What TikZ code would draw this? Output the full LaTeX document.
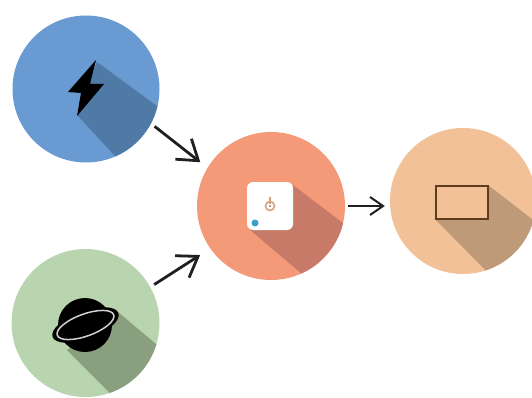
\documentclass[tikz,border=0pt]{standalone}
\usetikzlibrary{arrows.meta,calc}
\definecolor{cblue}{HTML}{6A9AD2}
\definecolor{sblue}{HTML}{4F7AA6}
\definecolor{cgreen}{HTML}{B9D5B0}
\definecolor{sgreen}{HTML}{8A9F7E}
\definecolor{corange}{HTML}{F59A78}
\definecolor{sorange}{HTML}{C87A68}
\definecolor{cpeach}{HTML}{F3C197}
\definecolor{speach}{HTML}{BE9A79}
\definecolor{brownline}{HTML}{5E3C1E}
\definecolor{dotblue}{HTML}{3A9FC8}
\definecolor{tanicon}{HTML}{D9A27C}
\tikzset{
  disc/.style={circle,inner sep=0pt,minimum size=#1},
  link/.style={draw=black!88,line width=2.8pt,-{Straight Barb[length=19pt,width=26pt,line width=2.8pt]}},
  smalllink/.style={draw=black!88,line width=2pt,-{Straight Barb[length=13pt,width=18pt,line width=2pt]}}
}
\begin{document}
\begin{tikzpicture}[x=1pt,y=-1pt]
\useasboundingbox (0,0) rectangle (532,398);
\fill[white] (0,0) rectangle (532,398);
% discs
\node[disc=147pt,fill=cblue] (power) at (86,89) {};
\node[disc=148pt,fill=cgreen] (planet) at (85.5,323) {};
\node[disc=148pt,fill=corange] (core) at (271,206) {};
\node[disc=146pt,fill=cpeach] (screen) at (463,201) {};
% long shadows
\begin{scope}
\clip (86,89) circle (73.5pt);
\fill[sblue] (97,62) -- (176,120) -- (128,170) -- (77,115) -- cycle;
\end{scope}
\begin{scope}
\clip (85.5,323) circle (74pt);
\fill[sgreen] (118,312) -- (175,360) -- (125,408) -- (67,350) -- cycle;
\end{scope}
\begin{scope}
\clip (271,206) circle (74pt);
\fill[sorange] (293,185) -- (360,236) -- (315,285) -- (250,230) -- cycle;
\end{scope}
\begin{scope}
\clip (463,201) circle (73pt);
\fill[speach] (488,185) -- (550,233) -- (500,285) -- (435,219) -- cycle;
\end{scope}
% bolt
\fill[black] (96,60) -- (68,92) -- (81,93) -- (77,116) -- (104,84) -- (90,84) -- cycle;
% planet
\fill[black] (85,325) ellipse (27pt and 27pt);
\fill[black,rotate around={20:(85.5,325)}] (85.5,325) ellipse (35pt and 14pt);
\draw[white!82!black,line width=1.5pt,rotate around={20:(85.5,325)}] (85.5,325) ellipse (30pt and 11pt);
% centre tile
\node[fill=white,rounded corners=6pt,minimum width=46pt,minimum height=48pt,inner sep=0pt] (tile) at (270,206) {};
\fill[dotblue] (255,223) circle (3.5pt);
\draw[tanicon,line width=1.6pt] (270,206) circle (4.5pt);
\draw[tanicon,line width=1.2pt] (270,197) -- (270,204);
\fill[brownline!70] (270,206) circle (1.1pt);
% screen rectangle
\node[fill=cpeach,draw=brownline,line width=2pt,minimum width=52pt,minimum height=33pt,inner sep=0pt] (frame) at (461.5,202) {};
% connectors
\draw[link,shorten <=4.5pt,shorten >=9pt] (power.-28) -- (core.149);
\draw[link,shorten <=4.5pt,shorten >=12pt] (planet.29) -- (core.215);
\draw[smalllink,shorten <=3pt,shorten >=5pt] (core.east) -- (screen.west |- core.east);
\end{tikzpicture}
\end{document}
